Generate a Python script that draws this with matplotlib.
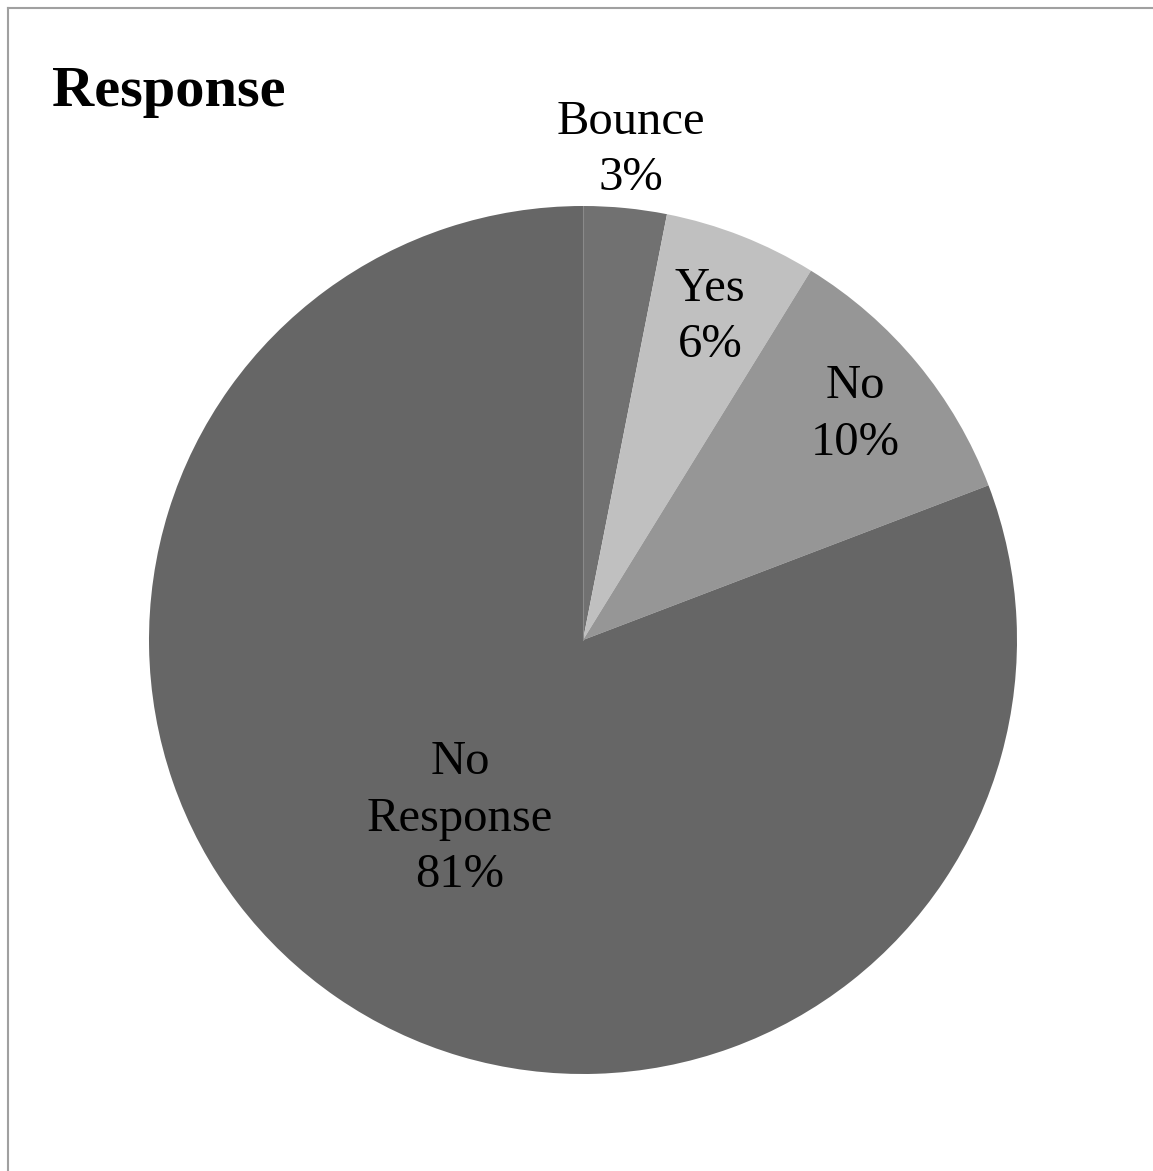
import numpy as np
import matplotlib.pyplot as plt
from matplotlib.lines import Line2D

labels = ["Bounce", "Yes", "No", "No\nResponse"]
values = [3.1, 5.7, 10.4, 80.8]
pct_labels = ["3%", "6%", "10%", "81%"]
colors = ["#717171", "#c0c0c0", "#969696", "#666666"]
label_radius = [1.135, 0.80, 0.815, 0.50]

plt.rcParams["font.family"] = ["Liberation Serif", "DejaVu Serif"]

W, H = 1153, 1171
fig = plt.figure(figsize=(W / 100, H / 100), dpi=100)

# pie box in pixels: center (583, 640), radius 434
cx, cy, r = 583, 640, 434
ax = fig.add_axes([(cx - r) / W, (H - cy - r) / H, 2 * r / W, 2 * r / H])
wedges, _ = ax.pie(values, colors=colors, startangle=90, counterclock=False,
                   radius=1, wedgeprops=dict(edgecolor="none"))
ax.plot([0, 0], [0, 1], color="#8a8a8a", lw=0.8)
ax.set_xlim(-1, 1)
ax.set_ylim(-1, 1)
ax.axis("off")

for w, lab, pct, rr in zip(wedges, labels, pct_labels, label_radius):
    ang = np.deg2rad((w.theta1 + w.theta2) / 2)
    ax.text(rr * np.cos(ang), rr * np.sin(ang), lab + "\n" + pct,
            ha="center", va="center", fontsize=35, linespacing=1.36, color="black")

fig.text(52 / W, 1 - 106 / H, "Response", fontsize=42, fontweight="bold",
         ha="left", va="baseline")

# frame lines on top and left
fig.add_artist(Line2D([7.5 / W, 7.5 / W], [0, 1 - 7.5 / H], color="#a0a0a0", lw=1.5))
fig.add_artist(Line2D([7.5 / W, 1], [1 - 7.5 / H, 1 - 7.5 / H], color="#a0a0a0", lw=1.5))

fig.savefig("out.png", dpi=100, facecolor="white")
